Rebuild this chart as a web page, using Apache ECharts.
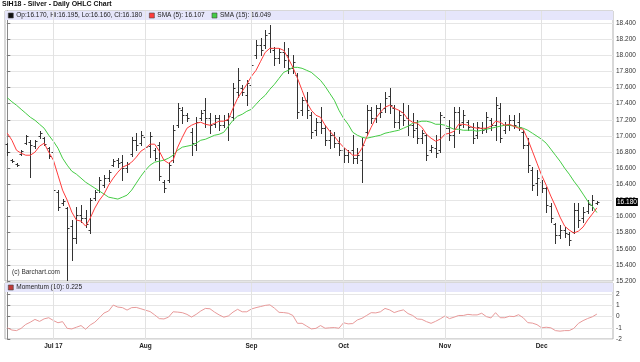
<!DOCTYPE html>
<html><head><meta charset="utf-8">
<script src="https://cdn.jsdelivr.net/npm/echarts@6/dist/echarts.min.js"></script>
<style>html,body{margin:0;padding:0;background:#fff}#c{width:640px;height:362px}</style>
</head><body><div id="c"></div>
<script>
// Daily OHLC, SIH18 Silver, 19 Jun 2017 - 18 Dec 2017 (trading days, index 0..128)
const open = [16.897,16.699,16.655,16.773,16.909,16.930,16.872,16.996,16.971,16.847,
16.798,16.302,16.166,16.104,15.881,15.733,16.017,15.980,15.832,16.228,
16.327,16.389,16.476,16.637,16.699,16.674,16.600,16.773,16.946,16.909,
16.983,16.872,16.822,16.884,16.426,16.451,16.699,17.132,17.318,17.256,
17.045,16.884,17.219,17.318,17.219,17.144,17.219,17.132,17.194,17.231,
17.541,17.590,17.504,17.627,17.999,18.123,18.123,18.271,18.061,17.962,
18.036,17.999,17.838,17.751,17.318,17.442,17.256,17.070,17.169,17.095,
16.946,17.008,16.909,16.822,16.760,16.822,16.723,16.699,17.045,17.318,
17.219,17.343,17.343,17.491,17.343,17.169,17.293,17.219,17.132,17.095,
16.971,17.008,16.822,16.847,16.822,17.231,17.095,17.008,17.293,17.169,
17.169,17.107,17.008,17.095,17.095,17.194,17.132,17.343,17.070,17.132,
17.194,17.169,17.045,16.884,16.575,16.414,16.426,16.352,16.129,15.906,
15.770,15.832,15.782,15.807,16.079,15.980,16.067,16.141,16.170];
const high = [16.909,16.711,16.668,16.822,17.008,16.946,16.946,17.058,16.983,16.860,
16.822,16.327,16.216,16.117,15.956,16.117,16.141,16.079,16.228,16.327,
16.488,16.513,16.575,16.711,16.723,16.760,16.674,16.983,17.033,17.058,
16.996,17.045,16.847,16.921,16.451,16.674,17.132,17.404,17.355,17.281,
17.095,17.231,17.318,17.466,17.281,17.256,17.256,17.256,17.281,17.652,
17.838,17.627,17.689,17.912,18.185,18.209,18.308,18.370,18.098,18.086,
18.160,18.086,17.999,17.776,17.479,17.541,17.293,17.219,17.355,17.132,
17.070,17.045,16.983,16.847,16.822,17.008,16.847,16.971,17.380,17.355,
17.380,17.404,17.541,17.590,17.380,17.318,17.404,17.380,17.281,17.194,
17.070,17.020,16.884,17.008,17.293,17.281,17.194,17.355,17.355,17.318,
17.194,17.157,17.169,17.169,17.293,17.219,17.479,17.404,17.169,17.256,
17.256,17.281,17.070,16.971,16.612,16.575,16.451,16.364,16.166,15.918,
15.894,15.869,15.807,16.166,16.166,16.117,16.203,16.265,16.195];
const low = [16.760,16.674,16.630,16.760,16.897,16.488,16.847,16.971,16.884,16.723,
16.302,16.079,16.141,15.213,15.460,15.671,15.931,15.869,15.795,16.203,
16.302,16.364,16.439,16.624,16.612,16.451,16.550,16.748,16.822,16.884,
16.822,16.736,16.699,16.451,16.302,16.426,16.674,17.107,17.157,17.182,
16.760,16.822,17.194,17.107,17.033,17.107,17.070,17.107,16.946,17.194,
17.479,17.504,17.380,17.603,17.962,17.999,18.086,18.036,17.875,17.900,
17.850,17.776,17.776,17.219,17.256,17.219,16.971,17.008,17.033,16.884,
16.847,16.860,16.760,16.674,16.674,16.661,16.661,16.426,17.008,17.157,
17.169,17.231,17.293,17.281,17.107,17.095,17.132,17.008,16.983,16.909,
16.909,16.699,16.798,16.736,16.798,17.033,16.946,16.860,17.033,17.107,
17.070,16.909,16.971,17.033,17.045,17.070,16.946,16.921,17.033,17.070,
17.095,17.070,16.847,16.550,16.327,16.265,16.302,16.055,15.931,15.671,
15.733,15.745,15.646,15.795,15.869,15.931,16.042,16.079,16.160];
const close = [16.798,16.686,16.640,16.810,16.996,16.884,16.934,17.033,16.897,16.748,
16.327,16.117,16.191,15.856,15.733,16.017,15.980,15.906,16.203,16.302,
16.451,16.476,16.550,16.686,16.661,16.600,16.649,16.946,16.884,17.008,
16.860,16.996,16.723,16.500,16.352,16.637,17.070,17.343,17.256,17.219,
16.909,17.169,17.281,17.219,17.132,17.219,17.132,17.194,17.244,17.590,
17.689,17.541,17.652,17.875,18.123,18.061,18.247,18.086,17.962,18.036,
17.937,17.838,17.912,17.293,17.442,17.318,17.045,17.169,17.095,16.946,
17.008,16.909,16.822,16.760,16.798,16.723,16.760,16.884,17.318,17.219,
17.343,17.293,17.466,17.380,17.169,17.256,17.194,17.132,17.070,16.971,
17.033,16.760,16.860,16.785,17.256,17.095,17.008,17.293,17.132,17.256,
17.107,16.971,17.107,17.070,17.231,17.132,17.380,16.971,17.132,17.194,
17.132,17.107,16.884,16.637,16.389,16.476,16.352,16.141,15.980,15.770,
15.832,15.795,15.708,16.079,15.956,16.055,16.154,16.203,16.180];
const sma5 = [17.033,16.946,16.822,16.785,16.760,16.760,16.798,16.872,16.909,16.798,
16.699,16.513,16.327,16.203,16.055,15.956,15.943,15.881,15.980,16.104,
16.203,16.278,16.389,16.476,16.550,16.612,16.637,16.674,16.736,16.810,
16.847,16.897,16.897,16.810,16.699,16.661,16.699,16.860,16.983,17.095,
17.132,17.157,17.169,17.144,17.132,17.157,17.182,17.182,17.206,17.343,
17.466,17.553,17.640,17.739,17.813,17.925,18.036,18.086,18.086,18.086,
18.061,17.962,17.850,17.714,17.565,17.417,17.318,17.256,17.231,17.132,
17.058,16.996,16.921,16.860,16.810,16.760,16.760,16.847,16.983,17.107,
17.219,17.293,17.355,17.380,17.343,17.318,17.281,17.206,17.169,17.157,
17.107,17.020,16.971,16.934,16.958,17.020,17.033,17.058,17.144,17.144,
17.132,17.107,17.095,17.095,17.095,17.120,17.182,17.169,17.132,17.144,
17.120,17.095,17.082,16.958,16.810,16.661,16.513,16.389,16.253,16.129,
15.993,15.881,15.832,15.795,15.819,15.869,15.956,16.030,16.107];
const sma15 = [17.473,17.423,17.380,17.330,17.281,17.231,17.194,17.144,17.095,17.008,
16.934,16.847,16.723,16.637,16.562,16.525,16.476,16.426,16.389,16.352,
16.315,16.278,16.240,16.228,16.216,16.240,16.265,16.327,16.414,16.500,
16.575,16.637,16.674,16.686,16.699,16.723,16.760,16.822,16.860,16.872,
16.884,16.909,16.946,16.958,16.983,17.008,17.020,17.045,17.120,17.194,
17.244,17.268,17.305,17.330,17.392,17.454,17.504,17.578,17.640,17.714,
17.788,17.813,17.850,17.850,17.838,17.813,17.788,17.739,17.689,17.615,
17.528,17.442,17.318,17.219,17.144,17.045,17.008,16.983,16.971,16.983,
16.996,17.008,17.033,17.045,17.058,17.070,17.095,17.120,17.157,17.169,
17.182,17.182,17.169,17.144,17.144,17.132,17.107,17.082,17.082,17.070,
17.070,17.070,17.058,17.070,17.082,17.095,17.107,17.120,17.132,17.132,
17.120,17.107,17.095,17.070,17.033,16.996,16.958,16.909,16.835,16.760,
16.686,16.600,16.525,16.439,16.364,16.278,16.191,16.129,16.049];
const momentum = [-1.00,-1.20,-1.25,-1.05,-0.70,-0.50,-0.25,-0.43,-0.20,-0.10,
-0.35,-0.55,-0.45,-1.05,-1.10,-0.95,-0.80,-1.13,-0.75,-0.50,
-0.10,0.32,0.50,1.03,0.85,0.80,0.58,0.80,0.82,0.70,
0.57,0.45,0.15,-0.18,-0.21,-0.05,0.43,0.40,0.35,0.20,
-0.04,0.20,0.50,0.73,0.70,0.40,0.15,-0.05,0.06,0.40,
0.65,0.43,0.43,0.68,0.80,0.90,1.00,1.05,0.75,0.38,
0.36,0.30,0.10,-0.60,-0.60,-0.85,-1.10,-1.05,-0.80,-1.04,
-1.00,-0.98,-1.04,-0.55,-0.65,-0.62,-0.30,-0.15,0.10,0.35,
0.33,0.43,0.73,0.60,0.36,0.50,0.60,0.27,0.10,-0.21,
-0.25,-0.45,-0.60,-0.42,-0.20,0.05,-0.18,-0.05,0.10,0.10,
0.20,0.15,0.15,0.30,0.00,-0.12,0.35,-0.10,-0.10,0.03,
0.00,0.17,-0.10,-0.54,-0.58,-0.72,-1.00,-0.95,-1.00,-1.25,
-1.30,-1.25,-1.25,-1.05,-0.60,-0.36,-0.17,-0.02,0.225];
// first trading day of each month (bar index) and their labels
const monthTickIdx = [10, 30, 53, 73, 95, 116];
const monthTickLabels = ['Jul 17', 'Aug', 'Sep', 'Oct', 'Nov', 'Dec'];

const N = close.length, L = N - 1;
const FONT = 'Liberation Sans, Arial, sans-serif';
const ohlcData = close.map((c, i) => [i, open[i], high[i], low[i], c]);
const sma5Data = sma5.map((v, i) => [i, v]);
const sma15Data = sma15.map((v, i) => [i, v]);
const momData = momentum.map((v, i) => [i, v]);
const ohlcName = `Op:${open[L].toFixed(3)}, Hi:${high[L].toFixed(3)}, Lo:${low[L].toFixed(3)}, Cl:${close[L].toFixed(3)}`;
const sma5Name = `SMA (5): ${sma5[L].toFixed(3)}`;
const sma15Name = `SMA (15): ${sma15[L].toFixed(3)}`;
const momName = `Momentum (10): ${momentum[L].toFixed(3)}`;

function renderOHLC(params, api) {
  const i = api.value(0);
  const pO = api.coord([i, api.value(1)]);
  const pH = api.coord([i, api.value(2)]);
  const pL = api.coord([i, api.value(3)]);
  const pC = api.coord([i, api.value(4)]);
  const x = Math.round(pO[0]) + 0.5;
  const yo = Math.round(pO[1]) + 0.5, yc = Math.round(pC[1]) + 0.5;
  const st = {stroke: '#333', lineWidth: 1};
  return {type: 'group', children: [
    {type: 'line', shape: {x1: x, y1: Math.round(pH[1]), x2: x, y2: Math.round(pL[1]) + 1}, style: st},
    {type: 'line', shape: {x1: x - 2, y1: yo, x2: x, y2: yo}, style: st},
    {type: 'line', shape: {x1: x, y1: yc, x2: x + 2, y2: yc}, style: st}
  ]};
}

const vLine = {silent: true, symbol: ['none', 'none'], label: {show: false},
  lineStyle: {color: '#e2e2e2', width: 1, type: 'solid'}, emphasis: {disabled: true},
  data: monthTickIdx.map(v => ({xAxis: v}))};

const chart = echarts.init(document.getElementById('c'));
chart.setOption({
  animation: false,
  backgroundColor: '#fff',
  textStyle: {fontFamily: FONT},
  title: [
    {text: 'SIH18 - Silver - Daily OHLC Chart', left: 2, top: 1, padding: 0,
     textStyle: {fontSize: 7, fontWeight: 'bold', color: '#111', fontFamily: FONT}},
    {text: '(c) Barchart.com', left: 12, top: 269, padding: 0,
     textStyle: {fontSize: 6.5, fontWeight: 'normal', color: '#333', fontFamily: FONT}}
  ],
  graphic: [
    {type: 'rect', left: 5, top: 11, z: 3, shape: {width: 608, height: 9}, style: {fill: '#e6e6fb'}},
    {type: 'rect', left: 5, top: 283, z: 3, shape: {width: 608, height: 9}, style: {fill: '#e6e6fb'}}
  ],
  legend: [
    {left: 8, top: 12, padding: 0, itemWidth: 5, itemHeight: 5, itemGap: 7, icon: 'rect', selectedMode: false,
     itemStyle: {borderColor: '#444', borderWidth: 0.6},
     textStyle: {fontSize: 6.5, color: '#222', fontFamily: FONT, padding: [0, 0, 0, -2]},
     data: [{name: ohlcName, itemStyle: {color: '#111'}}, {name: sma5Name}, {name: sma15Name}]},
    {left: 8, top: 284, padding: 0, itemWidth: 5, itemHeight: 5, icon: 'rect', selectedMode: false,
     itemStyle: {borderColor: '#444', borderWidth: 0.6},
     textStyle: {fontSize: 6.5, color: '#222', fontFamily: FONT, padding: [0, 0, 0, -2]},
     data: [{name: momName, itemStyle: {color: '#c03a3a'}}]}
  ],
  grid: [
    {left: 5, right: 27, top: 11, height: 270, show: true, borderColor: '#b0b0b0', borderWidth: 1, containLabel: false},
    {left: 5, right: 27, top: 283, height: 56, show: true, borderColor: '#b0b0b0', borderWidth: 1, containLabel: false}
  ],
  xAxis: [
    {type: 'value', gridIndex: 0, min: -0.5, max: 131.5, show: true,
     axisLine: {show: false}, axisTick: {show: false}, axisLabel: {show: false}, splitLine: {show: false}},
    {type: 'value', gridIndex: 1, min: -0.5, max: 131.5,
     axisLine: {show: false}, axisTick: {show: false}, splitLine: {show: false},
     axisLabel: {customValues: monthTickIdx, formatter: v => monthTickLabels[monthTickIdx.indexOf(v)] || '',
       fontSize: 6.5, fontWeight: 'bold', color: '#222', margin: 4, fontFamily: FONT}}
  ],
  yAxis: [
    {type: 'value', gridIndex: 0, position: 'right', min: 15.2, max: 18.549, interval: 0.2,
     axisLine: {show: true, lineStyle: {color: '#888'}},
     axisTick: {show: true, length: 3, lineStyle: {color: '#777'}},
     axisLabel: {formatter: v => v.toFixed(3), showMaxLabel: false, fontSize: 6.5, color: '#333', margin: 3, fontFamily: FONT},
     splitLine: {show: true, lineStyle: {color: '#e6e6e6', width: 1}}},
    {type: 'value', gridIndex: 1, position: 'right', min: -2, max: 3, interval: 1,
     axisLine: {show: true, lineStyle: {color: '#888'}},
     axisTick: {show: true, length: 3, lineStyle: {color: '#777'}},
     axisLabel: {formatter: v => (v > 2 ? '' : String(v)), showMaxLabel: false, fontSize: 6.5, color: '#333', margin: 3, fontFamily: FONT},
     splitLine: {show: true, lineStyle: {color: '#e6e6e6', width: 1}}}
  ],
  series: [
    {name: 'vgrid-main', type: 'line', xAxisIndex: 0, yAxisIndex: 0, data: [], z: 1, markLine: vLine},
    {name: 'vgrid-mom', type: 'line', xAxisIndex: 1, yAxisIndex: 1, data: [], z: 1, markLine: vLine},
    {name: ohlcName, type: 'custom', xAxisIndex: 0, yAxisIndex: 0, renderItem: renderOHLC, z: 2,
     itemStyle: {color: '#111'}, encode: {x: 0, y: [1, 2, 3, 4]}, data: ohlcData, silent: true},
    {name: sma15Name, type: 'line', xAxisIndex: 0, yAxisIndex: 0, data: sma15Data, showSymbol: false, symbol: 'none',
     smooth: false, z: 3, silent: true, itemStyle: {color: '#45cc45'}, lineStyle: {color: '#45cc45', width: 1}},
    {name: sma5Name, type: 'line', xAxisIndex: 0, yAxisIndex: 0, data: sma5Data, showSymbol: false, symbol: 'none',
     smooth: false, z: 4, silent: true, itemStyle: {color: '#ff3c3c'}, lineStyle: {color: '#ff3c3c', width: 1},
     markLine: {silent: true, symbol: ['none', 'none'], lineStyle: {width: 1, color: 'rgba(0,0,0,0)'},
       emphasis: {disabled: true},
       label: {show: true, position: 'end', distance: 3, formatter: close[L].toFixed(3), backgroundColor: '#000',
         color: '#fff', fontSize: 6.5, padding: [1, 1, 0, 1], fontFamily: FONT, opacity: 1},
       data: [{yAxis: close[L]}]}},
    {name: momName, type: 'line', xAxisIndex: 1, yAxisIndex: 1, data: momData, showSymbol: false, symbol: 'none',
     z: 3, silent: true, itemStyle: {color: '#c03a3a'}, lineStyle: {color: '#e89a9a', width: 1}}
  ]
});
</script>
</body></html>
